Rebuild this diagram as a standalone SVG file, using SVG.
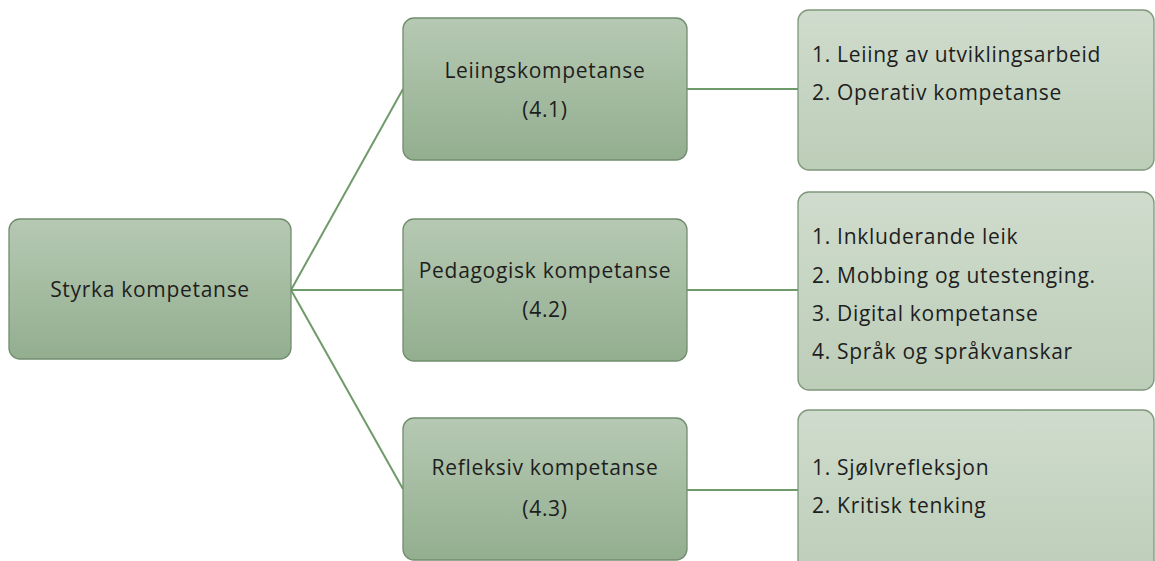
<svg xmlns="http://www.w3.org/2000/svg" width="1155" height="561" viewBox="0 0 1155 561">
  <defs>
    <linearGradient id="gMain" x1="0" y1="0" x2="0" y2="1">
      <stop offset="0" stop-color="#b6c9b3"/>
      <stop offset="1" stop-color="#93ae8f"/>
    </linearGradient>
    <linearGradient id="gSub" x1="0" y1="0" x2="0" y2="1">
      <stop offset="0" stop-color="#d0dccd"/>
      <stop offset="1" stop-color="#bccdb8"/>
    </linearGradient>
    <style>
      .main { fill: url(#gMain); stroke: #728d6e; stroke-width: 1.3; }
      .sub { fill: url(#gSub); stroke: #7f977b; stroke-width: 1.3; }
      .lbl { font-family: "Open Sans", "Liberation Sans", sans-serif; font-size: 21px; letter-spacing: 0.7px; fill: #1e1e1e; text-anchor: middle; }
      .item { font-family: "Open Sans", "Liberation Sans", sans-serif; font-size: 21px; letter-spacing: 0.7px; fill: #1e1e1e; }
      .conn { stroke: #6f9a6a; stroke-width: 2; fill: none; }
    </style>
  </defs>
  <rect width="1155" height="561" fill="#ffffff"/>

  <g id="connectors">
    <path class="conn" d="M291 290 L403 89"/>
    <path class="conn" d="M291 290 L403 290"/>
    <path class="conn" d="M291 290 L403 489"/>
    <path class="conn" d="M687 89 L798 89"/>
    <path class="conn" d="M687 290 L798 290"/>
    <path class="conn" d="M687 490 L798 490"/>
  </g>

  <g id="root">
    <rect class="main" x="9" y="219" width="282" height="140" rx="11"/>
    <text class="lbl" x="150" y="297">Styrka kompetanse</text>
  </g>

  <g id="leiing">
    <rect class="main" x="403" y="18" width="284" height="142" rx="11"/>
    <text class="lbl" x="545" y="78">Leiingskompetanse</text>
    <text class="lbl" x="545" y="117">(4.1)</text>
  </g>

  <g id="pedagogisk">
    <rect class="main" x="403" y="219" width="284" height="142" rx="11"/>
    <text class="lbl" x="545" y="278">Pedagogisk kompetanse</text>
    <text class="lbl" x="545" y="317">(4.2)</text>
  </g>

  <g id="refleksiv">
    <rect class="main" x="403" y="418" width="284" height="142" rx="11"/>
    <text class="lbl" x="545" y="475">Refleksiv kompetanse</text>
    <text class="lbl" x="545" y="516">(4.3)</text>
  </g>

  <g id="leiing-items">
    <rect class="sub" x="798" y="10" width="356" height="160" rx="11"/>
    <text class="item" x="812" y="62">1. Leiing av utviklingsarbeid</text>
    <text class="item" x="812" y="100">2. Operativ kompetanse</text>
  </g>

  <g id="pedagogisk-items">
    <rect class="sub" x="798" y="192" width="356" height="198" rx="11"/>
    <text class="item" x="812" y="244">1. Inkluderande leik</text>
    <text class="item" x="812" y="283">2. Mobbing og utestenging.</text>
    <text class="item" x="812" y="321">3. Digital kompetanse</text>
    <text class="item" x="812" y="359">4. Språk og språkvanskar</text>
  </g>

  <g id="refleksiv-items">
    <rect class="sub" x="798" y="410" width="356" height="170" rx="11"/>
    <text class="item" x="812" y="475">1. Sjølvrefleksjon</text>
    <text class="item" x="812" y="513">2. Kritisk tenking</text>
  </g>
</svg>
